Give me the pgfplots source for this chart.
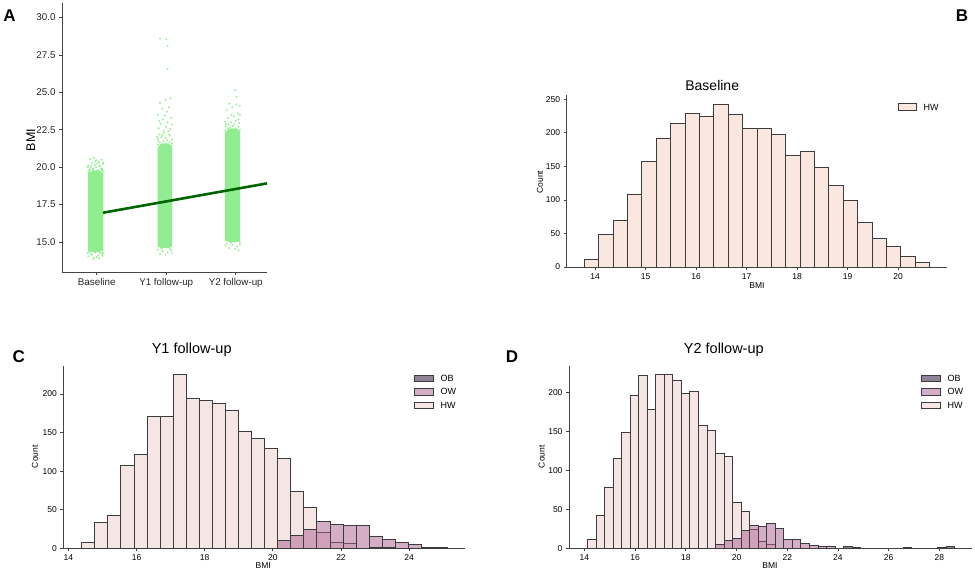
\documentclass[border=0pt]{standalone}
\usepackage{pgfplots}
\pgfplotsset{compat=1.18}
\usepackage{fontspec}
\setmainfont{Liberation Sans}
\definecolor{ptgreen}{HTML}{90EE90}
\definecolor{lngreen}{HTML}{006400}
\definecolor{hwb}{HTML}{FAE8E0}
\definecolor{hw}{HTML}{EBCBCB}
\definecolor{ow}{HTML}{A95D8D}
\definecolor{ob}{HTML}{1D052D}
\definecolor{edge}{HTML}{3C3C3C}
\definecolor{axgray}{HTML}{444444}
\pgfplotsset{
  base/.style={scale only axis, axis lines=left,
    axis line style={-,draw=axgray,line width=0.8pt},
    x axis line style={-}, y axis line style={-},
    tick align=outside, major tick length=3pt,
    tick style={draw=axgray,line width=0.8pt},
    /pgf/number format/assume math mode=true},
  histax/.style={base, ymin=0, ticklabel style={font=\fontsize{8.5}{10}\selectfont}},
  bars/.style={ybar interval, draw=edge, line width=0.85pt},
}
\begin{document}
\begin{tikzpicture}[x=1pt,y=1pt]
\useasboundingbox (0pt,0pt) rectangle (975pt,574pt);

% ---------------- Panel A ----------------
\begin{axis}[base, at={(62pt,302pt)}, anchor=south west, width=205pt, height=268.7pt,
  xmin=0.5, xmax=3.45, ymin=13.0, ymax=30.95,
  xtick={1,2,3}, xticklabels={Baseline,Y1 follow-up,Y2 follow-up},
  ytick={15,17.5,20,22.5,25,27.5,30},
  yticklabel style={/pgf/number format/.cd, fixed, fixed zerofill, precision=1},
  ticklabel style={font=\fontsize{9.8}{11}\selectfont, text=black!85}]
% dense cores of the jittered clouds
\addplot[fill=ptgreen, draw=none] coordinates {(0.875,14.45) (0.93,14.35) (1.05,14.35) (1.095,14.45) (1.095,19.6) (1.05,19.75) (0.93,19.75) (0.875,19.6)};
\addplot[fill=ptgreen, draw=none] coordinates {(1.875,14.7) (1.93,14.6) (2.04,14.6) (2.085,14.7) (2.085,21.3) (2.04,21.6) (1.93,21.6) (1.875,21.3)};
\addplot[fill=ptgreen, draw=none] coordinates {(2.845,15.1) (2.90,15.0) (3.02,15.0) (3.065,15.1) (3.065,22.3) (3.02,22.6) (2.90,22.6) (2.845,22.3)};
% sparse points
\addplot[only marks, mark=*, mark size=0.7pt, mark options={draw=ptgreen, fill=ptgreen}] coordinates {
(0.89,19.85) (0.95,19.9) (1.02,19.82) (1.08,19.88) (0.91,19.95) (0.99,20.0) (1.05,20.05) (0.88,20.1)
(0.97,20.15) (1.09,20.2) (0.93,20.3) (1.03,20.35) (1.07,20.5) (0.90,20.55) (1.00,20.45) (0.96,20.62)
(1.06,19.92) (0.92,20.08) (1.01,20.25) (0.94,19.84) (0.87,20.0) (1.04,20.12) (0.98,20.4) (1.095,20.3)
(0.88,19.7) (0.90,19.78) (1.09,19.72) (1.07,19.8) (0.96,19.8) (1.00,19.78) (0.885,19.65)
(0.90,14.35) (0.98,14.3) (1.06,14.25) (0.93,14.15) (1.02,14.1) (1.09,14.2) (0.88,14.05) (0.96,13.95)
(1.04,14.32) (0.91,14.22) (1.00,14.0) (0.95,13.85) (1.08,14.08) (0.87,14.28) (1.03,13.92) (0.885,14.4) (1.085,14.3)
(1.88,21.9) (1.93,22.0) (1.99,21.95) (2.05,22.1) (2.08,21.85) (1.90,22.2) (1.97,22.3) (2.03,22.4)
(1.89,22.6) (2.00,22.7) (2.06,22.55) (1.92,22.9) (2.02,23.0) (1.95,23.2) (2.07,23.3) (1.88,23.5)
(2.01,23.7) (1.94,23.9) (2.04,24.0) (1.91,24.3) (1.99,24.5) (2.06,24.6) (1.96,22.45) (2.08,22.85)
(1.90,23.1) (2.04,22.2) (1.87,22.05) (1.98,23.45) (2.02,26.56) (1.91,28.6) (2.00,28.54) (2.02,28.09)
(1.88,21.5) (1.91,21.65) (2.07,21.45) (2.05,21.7) (1.96,21.75) (2.01,21.8) (1.885,21.75) (2.08,21.6) (1.94,22.15)
(1.88,14.5) (1.95,14.4) (2.02,14.3) (2.07,14.45) (1.91,14.2) (1.99,14.15) (2.05,14.55) (1.93,14.55) (2.08,14.25)
(2.86,22.9) (2.93,23.0) (3.00,23.1) (3.05,22.95) (2.89,23.3) (2.97,23.4) (3.03,23.6) (2.87,23.8)
(2.95,24.0) (3.06,24.1) (2.91,24.25) (3.01,24.2) (3.01,24.7) (2.99,25.15) (2.94,23.5) (2.90,22.85)
(3.04,23.2) (2.85,23.05) (2.98,22.88) (3.06,23.5)
(2.85,22.45) (2.88,22.6) (3.06,22.5) (3.04,22.7) (2.96,22.75) (2.92,22.68) (3.055,22.35) (2.86,22.75)
(2.87,14.9) (2.95,14.8) (3.02,14.7) (3.06,14.85) (2.90,14.6) (2.99,14.55) (3.04,14.45) (2.93,14.95) (2.85,14.75) (3.06,15.0)
};
\addplot[lngreen, line width=2.6pt] coordinates {(1.09,16.96) (3.45,18.92)};
\end{axis}
\node[font=\fontsize{17}{18}\selectfont\bfseries] at (9.5pt,558.5pt) {A};
\node[rotate=90, font=\fontsize{12.5}{13}\selectfont] at (30.7pt,434pt) {BMI};

% ---------------- Panel B ----------------
\begin{axis}[histax, at={(566.7pt,307pt)}, anchor=south west, width=380pt, height=172pt,
  xmin=13.44, xmax=20.96, ymax=256.4,
  xtick={14,15,16,17,18,19,20}, ytick={0,50,100,150,200,250}]
\addplot[bars, fill=hwb] coordinates {
(13.790,12) (14.075,48) (14.359,70) (14.644,108) (14.928,158) (15.213,192) (15.498,214) (15.782,229)
(16.067,225) (16.351,243) (16.636,227) (16.921,206) (17.205,207) (17.490,197) (17.774,166) (18.059,173)
(18.344,148) (18.628,121) (18.913,99) (19.197,67) (19.482,43) (19.767,30) (20.051,16) (20.336,7) (20.620,0)};
\end{axis}
\node[font=\fontsize{17}{18}\selectfont\bfseries] at (962pt,558.5pt) {B};
\node[font=\fontsize{14}{15}\selectfont] at (712.2pt,489pt) {Baseline};
\node[rotate=90, font=\fontsize{8.5}{10}\selectfont] at (540pt,392pt) {Count};
\node[font=\fontsize{8.5}{10}\selectfont] at (757pt,288pt) {BMI};
\draw[edge, line width=0.85pt, fill=hwb] (898pt,463.7pt) rectangle (916.7pt,470.3pt);
\node[anchor=west, inner sep=0pt, font=\fontsize{9}{10}\selectfont] at (923.5pt,467pt) {HW};

% ---------------- Panel C ----------------
\begin{axis}[histax, at={(63.3pt,25.7pt)}, anchor=south west, width=401.7pt, height=182.3pt,
  xmin=13.85, xmax=25.64, ymax=236.2,
  xtick={14,16,18,20,22,24}, ytick={0,50,100,150,200}]
\addplot[bars, fill=hw, fill opacity=0.5] coordinates {
(14.390,8) (14.774,34) (15.157,43) (15.541,107) (15.924,122) (16.308,171) (16.691,171) (17.075,225)
(17.458,194) (17.842,192) (18.225,188) (18.609,179) (18.992,152) (19.376,143) (19.759,130) (20.143,117)
(20.526,74) (20.910,53) (21.293,21) (21.677,8) (22.060,6) (22.444,0)};
\addplot[bars, fill=ow, fill opacity=0.5] coordinates {
(20.143,10) (20.526,17) (20.910,24) (21.293,35) (21.677,31) (22.060,30) (22.444,29) (22.827,16)
(23.211,12) (23.594,7) (23.978,5) (24.361,0)};
\addplot[bars, fill=ob, fill opacity=0.5] coordinates {
(22.827,1) (23.211,1) (23.594,0) (23.978,0) (24.361,1) (24.745,1) (25.128,0)};
\end{axis}
\node[font=\fontsize{17}{18}\selectfont\bfseries] at (18.8pt,217.3pt) {C};
\node[font=\fontsize{14.5}{16}\selectfont] at (191.7pt,224.7pt) {Y1 follow-up};
\node[rotate=90, font=\fontsize{8.5}{10}\selectfont] at (35pt,117.3pt) {Count};
\node[font=\fontsize{8.5}{10}\selectfont] at (263.3pt,8pt) {BMI};
\draw[edge, line width=0.85pt, fill=ob, fill opacity=0.5] (414.3pt,192.4pt) rectangle (433.3pt,199pt);
\draw[edge, line width=0.85pt, fill=ow, fill opacity=0.5] (414.3pt,179pt) rectangle (433.3pt,185.6pt);
\draw[edge, line width=0.85pt, fill=hw, fill opacity=0.5] (414.3pt,165.4pt) rectangle (433.3pt,172pt);
\node[anchor=west, inner sep=0pt, font=\fontsize{9}{10}\selectfont] at (440.5pt,195.7pt) {OB};
\node[anchor=west, inner sep=0pt, font=\fontsize{9}{10}\selectfont] at (440.5pt,182.3pt) {OW};
\node[anchor=west, inner sep=0pt, font=\fontsize{9}{10}\selectfont] at (440.5pt,168.7pt) {HW};

% ---------------- Panel D ----------------
\begin{axis}[histax, at={(569pt,25.7pt)}, anchor=south west, width=403.3pt, height=182.3pt,
  xmin=13.39, xmax=29.3, ymax=234.3,
  xtick={14,16,18,20,22,24,26,28}, ytick={0,50,100,150,200}]
\addplot[bars, fill=hw, fill opacity=0.5] coordinates {
(14.120,12) (14.457,42) (14.793,78) (15.130,116) (15.467,149) (15.804,197) (16.140,222) (16.477,179)
(16.814,223) (17.150,223) (17.487,216) (17.824,199) (18.160,201) (18.497,158) (18.834,151) (19.171,122)
(19.507,118) (19.844,59) (20.181,48) (20.517,24) (20.854,9) (21.191,5) (21.527,0)};
\addplot[bars, fill=ow, fill opacity=0.5] coordinates {
(19.171,5) (19.507,10) (19.844,13) (20.181,23) (20.517,29) (20.854,28) (21.191,32) (21.527,26)
(21.864,11) (22.201,11) (22.538,6) (22.874,4) (23.211,3) (23.548,3) (23.884,0)};
\addplot[bars, fill=ob, fill opacity=0.5] coordinates {
(24.221,2) (24.558,1) (24.894,0)};
\addplot[bars, fill=ob, fill opacity=0.5] coordinates {
(26.578,1) (26.915,0)};
\addplot[bars, fill=ob, fill opacity=0.5] coordinates {
(27.925,1) (28.261,2.5) (28.598,0)};
\end{axis}
\node[font=\fontsize{17}{18}\selectfont\bfseries] at (512pt,217.3pt) {D};
\node[font=\fontsize{14.5}{16}\selectfont] at (723.8pt,224.7pt) {Y2 follow-up};
\node[rotate=90, font=\fontsize{8.5}{10}\selectfont] at (541.7pt,117.3pt) {Count};
\node[font=\fontsize{8.5}{10}\selectfont] at (770pt,8pt) {BMI};
\draw[edge, line width=0.85pt, fill=ob, fill opacity=0.5] (921pt,192.4pt) rectangle (940pt,199pt);
\draw[edge, line width=0.85pt, fill=ow, fill opacity=0.5] (921pt,179pt) rectangle (940pt,185.6pt);
\draw[edge, line width=0.85pt, fill=hw, fill opacity=0.5] (921pt,165.4pt) rectangle (940pt,172pt);
\node[anchor=west, inner sep=0pt, font=\fontsize{9}{10}\selectfont] at (947.3pt,195.7pt) {OB};
\node[anchor=west, inner sep=0pt, font=\fontsize{9}{10}\selectfont] at (947.3pt,182.3pt) {OW};
\node[anchor=west, inner sep=0pt, font=\fontsize{9}{10}\selectfont] at (947.3pt,168.7pt) {HW};
\end{tikzpicture}
\end{document}
